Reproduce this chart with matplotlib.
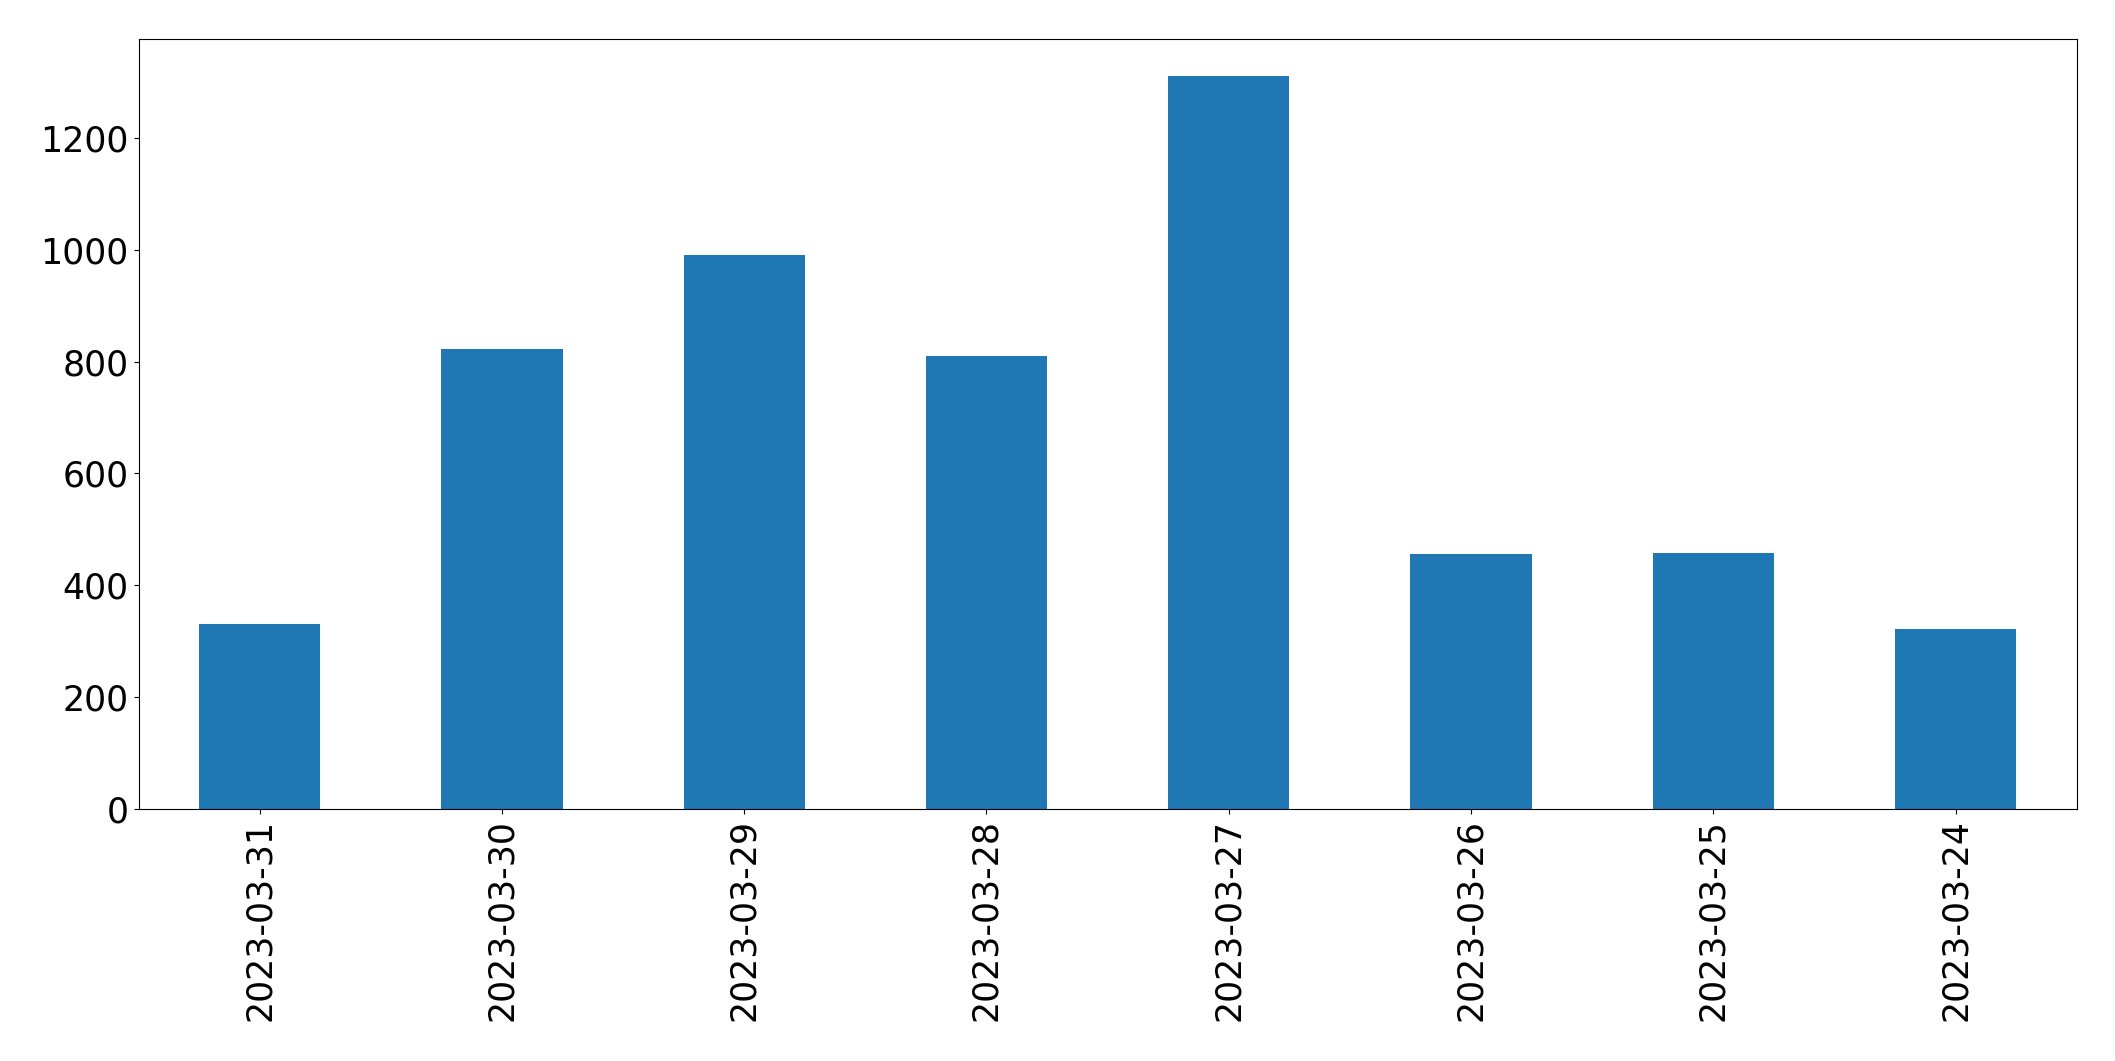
import matplotlib.pyplot as plt

# Daily counts
dates = ['2023-03-31', '2023-03-30', '2023-03-29', '2023-03-28',
         '2023-03-27', '2023-03-26', '2023-03-25', '2023-03-24']
counts = [331, 823, 991, 810, 1311, 456, 458, 322]

fig, ax = plt.subplots(figsize=(21.15, 10.61), dpi=100)
fig.subplots_adjust(left=0.0655, right=0.9819, top=0.963, bottom=0.2375)

x = range(len(dates))
ax.bar(x, counts, width=0.5, color='#1f77b4')
ax.set_xlim(-0.5, len(dates) - 0.5)
ax.set_xticks(list(x))
ax.set_xticklabels(dates, rotation=90)
ax.tick_params(axis='both', labelsize=25)

fig.savefig('out.png', dpi=100)
